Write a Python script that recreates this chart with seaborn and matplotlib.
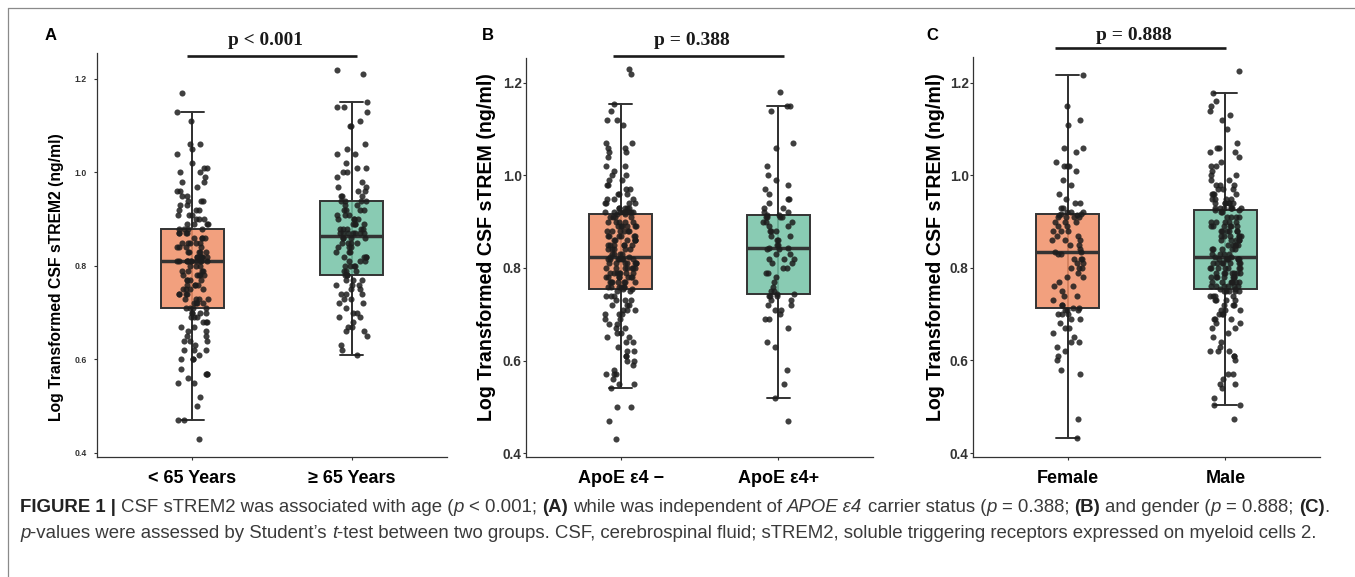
import numpy as np
import pandas as pd
import matplotlib
matplotlib.use("Agg")
import matplotlib.pyplot as plt
from matplotlib.lines import Line2D
from matplotlib.colors import to_rgba
import seaborn as sns

# ---------------- data ----------------
age_categories = ["< 65 Years", "\u2265 65 Years"]
apoe_categories = ["ApoE \u03b54 \u2212", "ApoE \u03b54+"]
sex_categories = ["Female", "Male"]

age_lt65 = [
    1.17, 1.13, 1.11, 1.06, 1.06, 1.05, 1.04, 1.02, 1.01, 1.01,
    1.00, 1.00, 0.99, 0.98, 0.98, 0.97, 0.96, 0.96, 0.95, 0.95,
    0.94, 0.94, 0.94, 0.93, 0.93, 0.92, 0.92, 0.92, 0.91, 0.91,
    0.91, 0.90, 0.90, 0.90, 0.89, 0.89, 0.89, 0.89, 0.88, 0.88,
    0.88, 0.88, 0.87, 0.87, 0.87, 0.87, 0.86, 0.86, 0.86, 0.86,
    0.85, 0.85, 0.85, 0.85, 0.85, 0.84, 0.84, 0.84, 0.84, 0.83,
    0.83, 0.83, 0.83, 0.83, 0.82, 0.82, 0.82, 0.82, 0.82, 0.82,
    0.81, 0.81, 0.81, 0.81, 0.81, 0.81, 0.81, 0.81, 0.81, 0.81,
    0.81, 0.80, 0.80, 0.80, 0.79, 0.79, 0.79, 0.79, 0.78, 0.78,
    0.78, 0.78, 0.78, 0.77, 0.77, 0.77, 0.77, 0.76, 0.76, 0.76,
    0.76, 0.75, 0.75, 0.75, 0.75, 0.74, 0.74, 0.74, 0.74, 0.73,
    0.73, 0.73, 0.73, 0.72, 0.72, 0.72, 0.72, 0.71, 0.71, 0.71,
    0.71, 0.70, 0.70, 0.70, 0.70, 0.69, 0.69, 0.69, 0.68, 0.68,
    0.68, 0.67, 0.67, 0.66, 0.66, 0.65, 0.65, 0.64, 0.64, 0.64,
    0.63, 0.62, 0.62, 0.62, 0.61, 0.60, 0.60, 0.60, 0.58, 0.57,
    0.57, 0.57, 0.56, 0.55, 0.55, 0.52, 0.50, 0.47, 0.47, 0.43,
]
age_ge65 = [
    1.22, 1.21, 1.15, 1.14, 1.14, 1.13, 1.11, 1.10, 1.10, 1.06,
    1.05, 1.04, 1.04, 1.02, 1.01, 1.01, 1.00, 1.00, 0.99, 0.98,
    0.97, 0.97, 0.96, 0.96, 0.95, 0.95, 0.95, 0.94, 0.94, 0.94,
    0.94, 0.93, 0.93, 0.92, 0.92, 0.92, 0.92, 0.91, 0.91, 0.91,
    0.90, 0.90, 0.90, 0.90, 0.89, 0.89, 0.89, 0.89, 0.88, 0.88,
    0.88, 0.88, 0.88, 0.87, 0.87, 0.87, 0.87, 0.87, 0.87, 0.87,
    0.86, 0.86, 0.86, 0.86, 0.85, 0.85, 0.85, 0.85, 0.84, 0.84,
    0.84, 0.83, 0.83, 0.83, 0.82, 0.82, 0.82, 0.82, 0.81, 0.81,
    0.81, 0.80, 0.80, 0.80, 0.80, 0.79, 0.79, 0.79, 0.78, 0.78,
    0.78, 0.77, 0.77, 0.77, 0.76, 0.76, 0.76, 0.75, 0.75, 0.74,
    0.74, 0.74, 0.73, 0.73, 0.72, 0.72, 0.71, 0.70, 0.70, 0.69,
    0.69, 0.68, 0.67, 0.67, 0.66, 0.66, 0.65, 0.63, 0.62, 0.61,
]
apoe_neg = [
    1.23, 1.22, 1.155, 1.14, 1.12, 1.12, 1.11, 1.07, 1.07, 1.06,
    1.06, 1.05, 1.05, 1.04, 1.02, 1.02, 1.01, 1.00, 1.00, 0.99,
    0.99, 0.98, 0.98, 0.97, 0.97, 0.96, 0.96, 0.96, 0.95, 0.95,
    0.95, 0.94, 0.94, 0.94, 0.94, 0.93, 0.93, 0.93, 0.93, 0.93,
    0.92, 0.92, 0.92, 0.92, 0.92, 0.92, 0.92, 0.92, 0.92, 0.916,
    0.916, 0.91, 0.91, 0.91, 0.91, 0.90, 0.90, 0.90, 0.90, 0.90,
    0.89, 0.89, 0.89, 0.89, 0.89, 0.89, 0.88, 0.88, 0.88, 0.88,
    0.88, 0.88, 0.87, 0.87, 0.87, 0.87, 0.87, 0.87, 0.86, 0.86,
    0.86, 0.86, 0.86, 0.86, 0.85, 0.85, 0.85, 0.85, 0.85, 0.85,
    0.84, 0.84, 0.84, 0.84, 0.84, 0.83, 0.83, 0.83, 0.83, 0.823,
    0.823, 0.82, 0.82, 0.82, 0.82, 0.82, 0.82, 0.82, 0.81, 0.81,
    0.81, 0.81, 0.81, 0.81, 0.81, 0.80, 0.80, 0.80, 0.80, 0.80,
    0.80, 0.80, 0.79, 0.79, 0.79, 0.79, 0.79, 0.79, 0.79, 0.78,
    0.78, 0.78, 0.78, 0.78, 0.78, 0.78, 0.77, 0.77, 0.77, 0.77,
    0.77, 0.77, 0.77, 0.76, 0.76, 0.76, 0.76, 0.76, 0.76, 0.754,
    0.754, 0.75, 0.75, 0.74, 0.74, 0.74, 0.73, 0.73, 0.73, 0.72,
    0.72, 0.72, 0.71, 0.71, 0.71, 0.70, 0.70, 0.70, 0.69, 0.69,
    0.68, 0.68, 0.67, 0.67, 0.66, 0.66, 0.65, 0.65, 0.64, 0.64,
    0.63, 0.62, 0.62, 0.61, 0.61, 0.60, 0.60, 0.59, 0.58, 0.57,
    0.57, 0.57, 0.56, 0.55, 0.55, 0.54, 0.50, 0.50, 0.47, 0.43,
]
apoe_pos = [
    1.18, 1.15, 1.15, 1.14, 1.07, 1.06, 1.02, 1.00, 0.99, 0.98,
    0.97, 0.96, 0.95, 0.95, 0.94, 0.93, 0.93, 0.92, 0.92, 0.915,
    0.915, 0.91, 0.91, 0.91, 0.91, 0.90, 0.90, 0.90, 0.89, 0.89,
    0.88, 0.88, 0.88, 0.87, 0.87, 0.86, 0.86, 0.85, 0.85, 0.843,
    0.843, 0.84, 0.84, 0.83, 0.83, 0.82, 0.82, 0.82, 0.81, 0.81,
    0.80, 0.80, 0.79, 0.79, 0.78, 0.77, 0.76, 0.75, 0.75, 0.743,
    0.743, 0.74, 0.74, 0.74, 0.73, 0.73, 0.72, 0.72, 0.71, 0.71,
    0.70, 0.69, 0.69, 0.67, 0.64, 0.63, 0.58, 0.55, 0.52, 0.47,
]
female = [
    1.217, 1.15, 1.12, 1.11, 1.06, 1.06, 1.05, 1.03, 1.02, 1.02,
    1.02, 1.01, 0.99, 0.98, 0.96, 0.95, 0.94, 0.94, 0.93, 0.93,
    0.92, 0.92, 0.92, 0.917,
    0.917, 0.915, 0.915, 0.91, 0.91, 0.91, 0.91, 0.90, 0.90, 0.90,
    0.89, 0.89, 0.88, 0.88, 0.88, 0.87, 0.87, 0.86, 0.86, 0.86,
    0.85, 0.85, 0.84, 0.835,
    0.835, 0.83, 0.83, 0.82, 0.82, 0.82, 0.81, 0.81, 0.80, 0.80,
    0.80, 0.79, 0.78, 0.78, 0.77, 0.76, 0.76, 0.75, 0.74, 0.74,
    0.73, 0.72, 0.72, 0.714,
    0.714, 0.71, 0.71, 0.71, 0.70, 0.70, 0.70, 0.69, 0.69, 0.68,
    0.67, 0.67, 0.66, 0.65, 0.64, 0.64, 0.63, 0.62, 0.61, 0.60,
    0.58, 0.57, 0.473, 0.432,
]
male = [
    1.226, 1.178, 1.16, 1.15, 1.14, 1.13, 1.12, 1.10, 1.07, 1.06,
    1.06, 1.05, 1.05, 1.04, 1.03, 1.02, 1.02, 1.01, 1.00, 1.00,
    0.99, 0.99, 0.98, 0.98, 0.98, 0.97, 0.97, 0.97, 0.96, 0.96,
    0.96, 0.96, 0.95, 0.95, 0.95, 0.95, 0.94, 0.94, 0.94, 0.94,
    0.94, 0.94, 0.93, 0.93, 0.93, 0.93, 0.93, 0.93, 0.93, 0.925,
    0.925, 0.92, 0.92, 0.91, 0.91, 0.91, 0.91, 0.90, 0.90, 0.90,
    0.90, 0.90, 0.89, 0.89, 0.89, 0.89, 0.89, 0.89, 0.88, 0.88,
    0.88, 0.88, 0.88, 0.88, 0.87, 0.87, 0.87, 0.87, 0.87, 0.87,
    0.86, 0.86, 0.86, 0.86, 0.86, 0.85, 0.85, 0.85, 0.85, 0.85,
    0.84, 0.84, 0.84, 0.84, 0.84, 0.83, 0.83, 0.83, 0.83, 0.823,
    0.823, 0.82, 0.82, 0.82, 0.82, 0.82, 0.82, 0.82, 0.81, 0.81,
    0.81, 0.81, 0.81, 0.81, 0.81, 0.80, 0.80, 0.80, 0.80, 0.80,
    0.80, 0.80, 0.79, 0.79, 0.79, 0.79, 0.79, 0.79, 0.79, 0.78,
    0.78, 0.78, 0.78, 0.78, 0.78, 0.78, 0.77, 0.77, 0.77, 0.77,
    0.77, 0.77, 0.77, 0.76, 0.76, 0.76, 0.76, 0.76, 0.76, 0.754,
    0.754, 0.75, 0.75, 0.75, 0.75, 0.75, 0.74, 0.74, 0.74, 0.74,
    0.73, 0.73, 0.73, 0.73, 0.72, 0.72, 0.72, 0.71, 0.71, 0.71,
    0.70, 0.70, 0.70, 0.69, 0.69, 0.69, 0.68, 0.68, 0.67, 0.67,
    0.66, 0.65, 0.64, 0.63, 0.62, 0.62, 0.62, 0.61, 0.61, 0.60,
    0.57, 0.57, 0.56, 0.55, 0.55, 0.54, 0.52, 0.504, 0.504, 0.473,
]

panel_letters = ["A", "B", "C"]
panel_ylabels = ["Log Transformed CSF sTREM2 (ng/ml)",
                 "Log Transformed CSF sTREM (ng/ml)",
                 "Log Transformed CSF sTREM (ng/ml)"]
p_labels = ["p < 0.001", "p = 0.388", "p = 0.888"]
y_ticks = [0.4, 0.6, 0.8, 1.0, 1.2]
panel_data = [(age_lt65, age_ge65, age_categories),
              (apoe_neg, apoe_pos, apoe_categories),
              (female, male, sex_categories)]

# ---------------- layout / style ----------------
box_colors = ["#F09068", "#75C2A6"]
box_alpha = 0.85
W, H = 1355, 577
layout = [
    dict(box=(97, 53, 447, 457), ylim=(0.3914, 1.2556), tick_fs=6.2, tick_pad=5.0,
         ylab_xy=(57, 277), ylab_len=287, letter_xy=(45, 40), p_xy=(265, 45), p_w=74,
         bracket=(187, 357, 56)),
    dict(box=(526, 58, 873, 457), ylim=(0.3914, 1.254), tick_fs=9.8, tick_pad=1.0,
         ylab_xy=(487, 247), ylab_len=347, letter_xy=(482, 40), p_xy=(692, 45), p_w=75,
         bracket=(613, 784, 56)),
    dict(box=(973, 57, 1320, 457), ylim=(0.3914, 1.256), tick_fs=9.8, tick_pad=1.0,
         ylab_xy=(935, 247), ylab_len=347, letter_xy=(926, 40), p_xy=(1134, 40), p_w=75,
         bracket=(1055, 1226, 48)),
]

sns.set_theme(style="white")
SANS = ["Liberation Sans", "DejaVu Sans"]
SERIF = ["Liberation Serif", "DejaVu Serif"]
plt.rcParams["font.family"] = SANS

fig = plt.figure(figsize=(W / 100, H / 100), dpi=100)
fig.patch.set_facecolor("white")
np.random.seed(11)

axes = []
for (g0, g1, cats), lay, ylab in zip(panel_data, layout, panel_ylabels):
    l, t, r, b = lay["box"]
    ax = fig.add_axes([l / W, 1 - b / H, (r - l) / W, (b - t) / H])
    df = pd.DataFrame({"group": [cats[0]] * len(g0) + [cats[1]] * len(g1),
                       "value": list(g0) + list(g1)})
    sns.boxplot(data=df, x="group", y="value", order=cats, hue="group",
                hue_order=cats, palette=box_colors, saturation=1, width=0.4,
                whis=1.5, showfliers=False, linecolor="#333333", linewidth=1.4,
                medianprops={"linewidth": 2.5, "color": "#333333"},
                capwidths=0.15, legend=False, ax=ax)
    # semi-transparent boxes, with the whisker line running through them
    for patch in ax.patches:
        fc = patch.get_facecolor()
        patch.set_facecolor(to_rgba(fc[:3], box_alpha))
        patch.set_zorder(2)
    spans = {}
    for ln in list(ax.lines):
        xd, yd = np.asarray(ln.get_xdata(), float), np.asarray(ln.get_ydata(), float)
        if len(xd) == 2 and np.isclose(xd[0], xd[1]) and not np.isclose(yd[0], yd[1]):
            key = round(float(xd[0]), 3)
            lo, hi = spans.get(key, (np.inf, -np.inf))
            spans[key] = (min(lo, yd.min()), max(hi, yd.max()))
    for xk, (lo, hi) in spans.items():
        ax.plot([xk, xk], [lo, hi], color="#333333", lw=1.4, zorder=1.5)
    for ln in ax.lines:
        if ln.get_zorder() != 1.5:
            ln.set_zorder(2.5)
    sns.stripplot(data=df, x="group", y="value", order=cats, color="#1e1e1e",
                  alpha=0.85, size=4.4, jitter=0.1, linewidth=0, zorder=3, ax=ax)
    ax.set_xlim(-0.6, 1.6)
    ax.set_ylim(*lay["ylim"])
    ax.set_yticks(y_ticks)
    ax.set_yticklabels([f"{v:.1f}" for v in y_ticks], fontweight="bold",
                       fontsize=lay["tick_fs"], color="#333333")
    ax.set_xticks([0, 1])
    ax.set_xticklabels(cats, fontweight="bold", fontsize=13, color="black")
    ax.set_xlabel("")
    ax.set_ylabel(ylab, fontweight="bold", fontsize=11, color="black")
    for s in ["top", "right"]:
        ax.spines[s].set_visible(False)
    for s in ["left", "bottom"]:
        ax.spines[s].set_color("#333333")
        ax.spines[s].set_linewidth(0.9)
    ax.tick_params(axis="both", length=2.2, width=0.8, color="#333333",
                   left=True, bottom=True)
    ax.tick_params(axis="y", pad=lay["tick_pad"])
    ax.tick_params(axis="x", pad=7)
    ax.set_facecolor("white")
    axes.append(ax)

fig.canvas.draw()
rend = fig.canvas.get_renderer()

# y labels sized and positioned like the original
for ax, lay in zip(axes, layout):
    l, t, r, b = lay["box"]
    lab = ax.yaxis.label
    bb = lab.get_window_extent(rend)
    lab.set_fontsize(lab.get_fontsize() * lay["ylab_len"] / bb.height)
    lab.set_va("center")
    cx, cy = lay["ylab_xy"]
    ax.yaxis.set_label_coords((cx - l) / (r - l), (b - cy) / (b - t))

# panel letters, p-values, brackets
for letter, p, lay in zip(panel_letters, p_labels, layout):
    lx, ly = lay["letter_xy"]
    fig.text(lx / W, 1 - ly / H, letter, fontsize=12, fontweight="bold",
             ha="left", va="baseline", color="black")
    px, py = lay["p_xy"]
    pt = fig.text(px / W, 1 - py / H, p, fontsize=13, fontweight="bold",
                  family=SERIF, ha="center", va="baseline", color="#1a1a1a")
    bb = pt.get_window_extent(rend)
    pt.set_fontsize(13 * lay["p_w"] / bb.width)
    x0, x1, yb = lay["bracket"]
    fig.add_artist(Line2D([x0 / W, x1 / W], [1 - yb / H, 1 - yb / H],
                          color="#1a1a1a", lw=1.9, solid_capstyle="butt"))

# outer frame (left and top edges)
fig.add_artist(Line2D([8 / W, 8 / W], [1 - 8 / H, 0], color="#8a8a8a", lw=0.9))
fig.add_artist(Line2D([8 / W, 1], [1 - 8 / H, 1 - 8 / H], color="#8a8a8a", lw=0.9))

# caption
cap1 = [("FIGURE 1 |", "bold", "normal"),
        (" CSF sTREM2 was associated with age (", "normal", "normal"),
        ("p", "normal", "italic"),
        (" < 0.001; ", "normal", "normal"),
        ("(A)", "bold", "normal"),
        (" while was independent of ", "normal", "normal"),
        ("APOE \u03b54", "normal", "italic"),
        (" carrier status (", "normal", "normal"),
        ("p", "normal", "italic"),
        (" = 0.388; ", "normal", "normal"),
        ("(B)", "bold", "normal"),
        (" and gender (", "normal", "normal"),
        ("p", "normal", "italic"),
        (" = 0.888; ", "normal", "normal"),
        ("(C)", "bold", "normal"),
        (".", "normal", "normal")]
cap2 = [("p", "normal", "italic"),
        ("-values were assessed by Student\u2019s ", "normal", "normal"),
        ("t", "normal", "italic"),
        ("-test between two groups. CSF, cerebrospinal fluid; sTREM2, soluble "
         "triggering receptors expressed on myeloid cells 2.", "normal", "normal")]


def text_w(s, fs, weight, style):
    t = fig.text(0, 0, s, fontsize=fs, fontweight=weight, fontstyle=style)
    w = t.get_window_extent(rend).width
    t.remove()
    return w


def advance(s, fs, weight, style):
    return (text_w("|" + s + "|", fs, weight, style)
            - text_w("||", fs, weight, style))


def line_width(segs, fs):
    return sum(advance(s, fs, w, st) for s, w, st in segs)


def draw_line(segs, x0, ybase, fs):
    x = x0
    for s, w, st in segs:
        lead = len(s) - len(s.lstrip(" "))
        xs = x + (advance(" " * lead, fs, w, st) if lead else 0)
        col = "#222222" if w == "bold" else "#3a3a3a"
        fig.text(xs / W, 1 - ybase / H, s.strip(" "), fontsize=fs, fontweight=w,
                 fontstyle=st, color=col, ha="left", va="baseline")
        x += advance(s, fs, w, st)


base_fs = 10.0
cap_fs = base_fs * 1320 / line_width(cap1, base_fs)
draw_line(cap1, 20, 512, cap_fs)
draw_line(cap2, 20, 538, cap_fs)

fig.savefig("out.png", dpi=100, facecolor="white")
